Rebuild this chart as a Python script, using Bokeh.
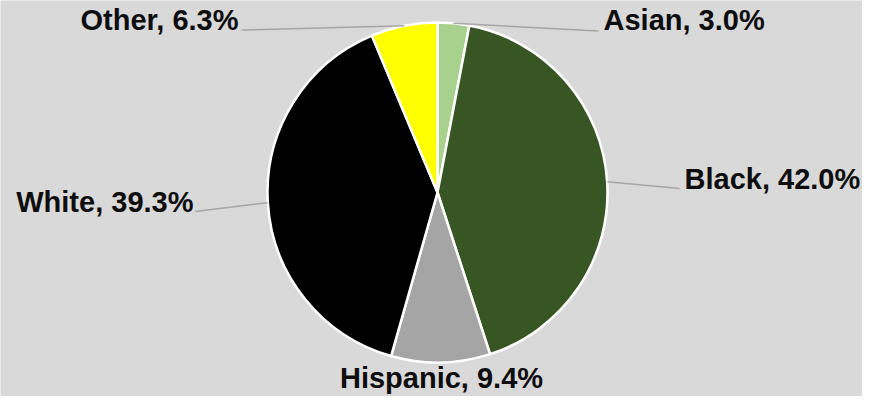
import math
from bokeh.plotting import figure
from bokeh.models import ColumnDataSource, Range1d
from bokeh.embed import file_html
from bokeh.resources import INLINE
from bokeh.core.properties import value

# ---- data ----
categories = ["Asian", "Black", "Hispanic", "White", "Other"]
shares = [3.0, 42.0, 9.4, 39.3, 6.3]
colors = ["#a9d18e", "#375623", "#a5a5a5", "#000000", "#ffff00"]

# ---- layout parameters (figure pixel space, y measured from top) ----
W, H = 862, 396
cx, cy_top, R = 437, 192, 170
# label anchor (x, text middle from top), alignment, leader-end offset (dx, dy), has leader
label_pos = {
    "Asian": (603, 19.5, "left", (-5, 11), True),
    "Black": (684, 178, "left", (-5, 10), True),
    "Hispanic": (441, 377, "center", (0, 0), False),
    "White": (193, 201, "right", (2, 10), True),
    "Other": (238, 19.5, "right", (3, 10), True),
}

def Y(y_top):
    return H - y_top

p = figure(width=W, height=H, output_backend="svg", toolbar_location=None,
           x_range=Range1d(0, W), y_range=Range1d(0, H), min_border=0,
           background_fill_color="#d9d9d9", border_fill_color="#d9d9d9",
           outline_line_color=None)
p.axis.visible = False
p.grid.visible = False

total = sum(shares)
starts, ends, mids = [], [], []
cum = 0.0
for s in shares:
    a0 = math.pi / 2 - 2 * math.pi * (cum + s) / total
    a1 = math.pi / 2 - 2 * math.pi * cum / total
    starts.append(a0)
    ends.append(a1)
    mids.append((a0 + a1) / 2)
    cum += s

src = ColumnDataSource(dict(start=starts, end=ends, color=colors, cat=categories))
p.wedge(x=cx, y=Y(cy_top), radius=R, start_angle="start", end_angle="end",
        fill_color="color", line_color="white", line_width=2.5, source=src)

# leader lines
lx0, ly0, lx1, ly1 = [], [], [], []
tx, ty, tt, talign = [], [], [], []
for cat, s, m in zip(categories, shares, mids):
    x, ym, align, (dx, dy), lead = label_pos[cat]
    tx.append(x); ty.append(Y(ym)); tt.append(f"{cat}, {s:.1f}%"); talign.append(align)
    if lead:
        lx0.append(cx + R * math.cos(m)); ly0.append(Y(cy_top) + R * math.sin(m))
        lx1.append(x + dx); ly1.append(Y(ym + dy))

p.segment(x0=lx0, y0=ly0, x1=lx1, y1=ly1, line_color="#a6a6a6", line_width=1.5)

tsrc = ColumnDataSource(dict(x=tx, y=ty, t=tt, align=talign))
p.text(x="x", y="y", text="t", text_align="align", text_baseline="middle",
       text_font=value("Liberation Sans"), text_font_style="bold",
       text_font_size="29px", text_color="#0d0d0d", source=tsrc)

open("out.html", "w").write(file_html(p, INLINE))
